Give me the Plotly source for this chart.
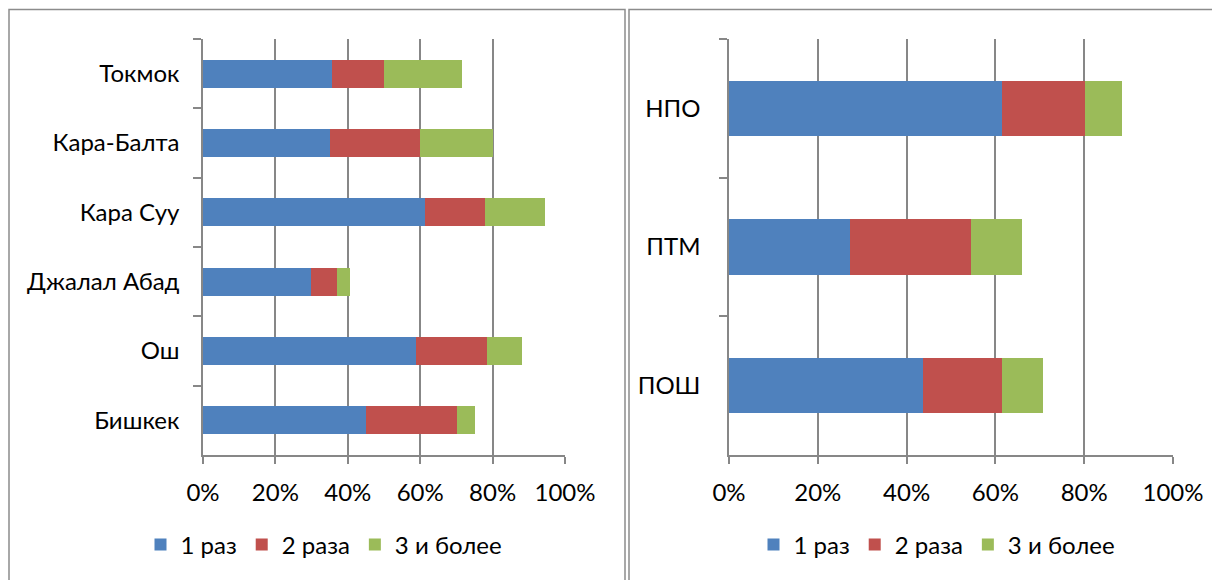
import plotly.graph_objects as go

W, H = 1220, 580
OFF = 8  # default page body margin in the browser

# ---- data ----
series_names = ["1 раз", "2 раза", "3 и более"]
colors = ["#4F81BD", "#C0504D", "#9BBB59"]

cities = ["Токмок", "Кара-Балта", "Кара Суу", "Джалал Абад", "Ош", "Бишкек"]
city_once = [0.357, 0.351, 0.612, 0.298, 0.588, 0.449]
city_twice = [0.142, 0.249, 0.166, 0.071, 0.196, 0.252]
city_three = [0.216, 0.200, 0.167, 0.038, 0.098, 0.050]

schools = ["НПО", "ПТМ", "ПОШ"]
school_once = [0.615, 0.273, 0.437]
school_twice = [0.186, 0.272, 0.177]
school_three = [0.085, 0.114, 0.094]

x_ticks = [0, 0.2, 0.4, 0.6, 0.8, 1.0]

FONT = "Lato"
GRID = "#878787"

fig = go.Figure()

left_vals = [city_once, city_twice, city_three]
right_vals = [school_once, school_twice, school_three]

for name, col, vals in zip(series_names, colors, left_vals):
    fig.add_trace(go.Bar(
        y=cities, x=vals, name=name, orientation="h",
        marker=dict(color=col, line=dict(width=0)),
        xaxis="x", yaxis="y", legend="legend", width=0.4,
    ))
for name, col, vals in zip(series_names, colors, right_vals):
    fig.add_trace(go.Bar(
        y=schools, x=vals, name=name, orientation="h",
        marker=dict(color=col, line=dict(width=0)),
        xaxis="x2", yaxis="y2", legend="legend2", width=0.4,
    ))

def px(x):
    return (x - OFF) / W

def py(y):
    return 1 - (y - OFF) / H

xaxis_common = dict(
    range=[0, 1], tickvals=x_ticks, tickformat=".0%",
    showgrid=True, gridcolor=GRID, gridwidth=1.5, zeroline=False,
    showline=True, linecolor=GRID, linewidth=1.5,
    ticks="outside", ticklen=7, tickcolor=GRID, tickwidth=1.5,
    ticklabelstandoff=8, automargin=False,
    tickfont=dict(family=FONT, size=24, color="#000000"),
    fixedrange=True,
)
yaxis_common = dict(
    type="category", autorange="reversed",
    showgrid=False, zeroline=False,
    showline=True, linecolor=GRID, linewidth=1.5,
    ticks="outside", ticklen=8, tickcolor=GRID, tickwidth=1.5,
    tickson="boundaries", automargin=False,
    tickfont=dict(family=FONT, size=24, color="#000000"),
    fixedrange=True,
)

fig.update_layout(
    width=W, height=H,
    margin=dict(l=0, r=0, t=0, b=0, autoexpand=False),
    paper_bgcolor="white", plot_bgcolor="white",
    barmode="stack",
    font=dict(family=FONT, color="#000000"),
    xaxis=dict(domain=[px(203), px(565)], anchor="y", **xaxis_common),
    yaxis=dict(domain=[py(455), py(39)], anchor="x", ticklabelstandoff=17,
               categoryorder="array", categoryarray=cities, **yaxis_common),
    xaxis2=dict(domain=[px(729), px(1173)], anchor="y2", **xaxis_common),
    yaxis2=dict(domain=[py(455), py(39)], anchor="x2", ticklabelstandoff=22,
                categoryorder="array", categoryarray=schools, **yaxis_common),
    legend=dict(orientation="h", x=px(324), y=py(545), xanchor="center",
                yanchor="middle", font=dict(family=FONT, size=24, color="#000000"),
                itemwidth=30, traceorder="normal", bgcolor="rgba(0,0,0,0)"),
    legend2=dict(orientation="h", x=px(937), y=py(545), xanchor="center",
                 yanchor="middle", font=dict(family=FONT, size=24, color="#000000"),
                 itemwidth=30, traceorder="normal", bgcolor="rgba(0,0,0,0)"),
    shapes=[
        dict(type="rect", xref="paper", yref="paper",
             x0=px(9), x1=px(625), y0=py(600), y1=py(9.5),
             line=dict(color="#8c8c8c", width=1.5), layer="below"),
        dict(type="rect", xref="paper", yref="paper",
             x0=px(629), x1=px(1218), y0=py(600), y1=py(9.5),
             line=dict(color="#8c8c8c", width=1.5), layer="below"),
    ],
)

fig.write_html("out.html")
